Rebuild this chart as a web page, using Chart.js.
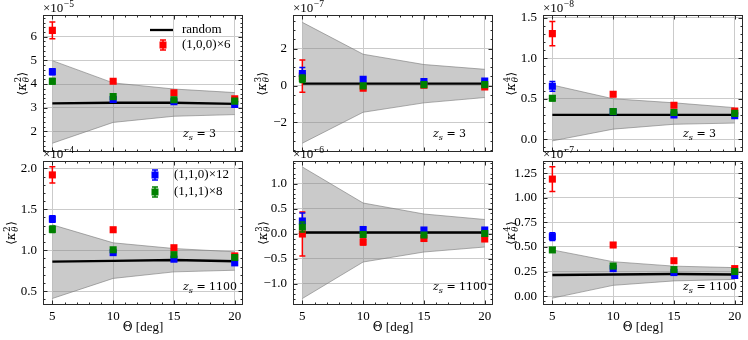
<!DOCTYPE html>
<html><head><meta charset="utf-8">
<script src="https://cdn.jsdelivr.net/npm/chart.js@4.4.1/dist/chart.umd.min.js"></script>
<style>
html,body{margin:0;padding:0;background:#fff}
body{width:748px;height:340px;position:relative;overflow:hidden}
canvas{position:absolute}
</style></head><body>
<script>
// ---------------- data ----------------
const thetaDeg = [5, 10, 15, 20];
const thetaTicks = [5, 10, 15, 20];
const seriesLabels = ['random', '(1,0,0)\u00D76', '(1,1,0)\u00D712', '(1,1,1)\u00D78'];

// <kappa^2>, z_s = 3   (x 1e-5)
const k2z3Random = [3.18, 3.21, 3.21, 3.16];
const k2z3BandHi = [4.99, 4.05, 3.79, 3.64];
const k2z3BandLo = [1.50, 2.38, 2.64, 2.71];
const k2z3S100 = [6.27, 4.12, 3.63, 3.38];
const k2z3E100 = [0.35, 0.06, 0.05, 0.04];
const k2z3S110 = [4.52, 3.35, 3.25, 3.14];
const k2z3E110 = [0.13, 0.05, 0.04, 0.04];
const k2z3S111 = [4.12, 3.47, 3.34, 3.28];
const k2z3E111 = [0.12, 0.05, 0.04, 0.04];
const k2z3Ticks = [2, 3, 4, 5, 6];

// <kappa^3>, z_s = 3   (x 1e-7)
const k3z3Random = [0.10, 0.10, 0.10, 0.10];
const k3z3BandHi = [3.43, 1.70, 1.14, 0.88];
const k3z3BandLo = [-3.13, -1.45, -0.94, -0.65];
const k3z3S100 = [0.51, -0.15, 0.02, -0.08];
const k3z3E100 = [0.88, 0.10, 0.07, 0.06];
const k3z3S110 = [0.65, 0.34, 0.22, 0.25];
const k3z3E110 = [0.33, 0.08, 0.06, 0.05];
const k3z3S111 = [0.37, -0.02, 0.05, 0.05];
const k3z3E111 = [0.20, 0.07, 0.05, 0.04];
const k3z3Ticks = [-2, 0, 2];

// <kappa^4>, z_s = 3   (x 1e-8)
const k4z3Random = [0.30, 0.30, 0.30, 0.30];
const k4z3BandHi = [0.67, 0.50, 0.45, 0.39];
const k4z3BandLo = [-0.02, 0.125, 0.185, 0.20];
const k4z3S100 = [1.305, 0.557, 0.42, 0.35];
const k4z3E100 = [0.15, 0.03, 0.02, 0.015];
const k4z3S110 = [0.654, 0.34, 0.30, 0.29];
const k4z3E110 = [0.06, 0.02, 0.015, 0.01];
const k4z3S111 = [0.507, 0.343, 0.33, 0.32];
const k4z3E111 = [0.03, 0.015, 0.01, 0.01];
const k4z3Ticks = [0.0, 0.5, 1.0, 1.5];

// <kappa^2>, z_s = 1100   (x 1e-4)
const k2z1100Random = [0.86, 0.87, 0.88, 0.865];
const k2z1100BandHi = [1.31, 1.09, 1.02, 0.98];
const k2z1100BandLo = [0.41, 0.655, 0.735, 0.755];
const k2z1100S100 = [1.92, 1.25, 1.03, 0.93];
const k2z1100E100 = [0.10, 0.02, 0.015, 0.01];
const k2z1100S110 = [1.38, 0.97, 0.89, 0.845];
const k2z1100E110 = [0.04, 0.015, 0.01, 0.01];
const k2z1100S111 = [1.255, 1.005, 0.945, 0.91];
const k2z1100E111 = [0.04, 0.015, 0.01, 0.01];
const k2z1100Ticks = [0.5, 1.0, 1.5, 2.0];

// <kappa^3>, z_s = 1100   (x 1e-6)
const k3z1100Random = [0.02, 0.02, 0.02, 0.02];
const k3z1100BandHi = [1.33, 0.61, 0.39, 0.28];
const k3z1100BandLo = [-1.30, -0.57, -0.37, -0.27];
const k3z1100S100 = [-0.01, -0.17, -0.10, -0.11];
const k3z1100E100 = [0.44, 0.06, 0.03, 0.03];
const k3z1100S110 = [0.25, 0.08, 0.07, 0.07];
const k3z1100E110 = [0.16, 0.04, 0.03, 0.02];
const k3z1100S111 = [0.13, -0.02, -0.03, 0.0];
const k3z1100E111 = [0.10, 0.03, 0.02, 0.02];
const k3z1100Ticks = [-1.0, -0.5, 0.0, 0.5, 1.0];

// <kappa^4>, z_s = 1100   (x 1e-7)
const k4z1100Random = [0.215, 0.22, 0.225, 0.22];
const k4z1100BandHi = [0.47, 0.35, 0.305, 0.29];
const k4z1100BandLo = [-0.02, 0.11, 0.155, 0.17];
const k4z1100S100 = [1.19, 0.52, 0.36, 0.28];
const k4z1100E100 = [0.125, 0.02, 0.015, 0.01];
const k4z1100S110 = [0.605, 0.28, 0.24, 0.21];
const k4z1100E110 = [0.04, 0.01, 0.01, 0.01];
const k4z1100S111 = [0.47, 0.306, 0.27, 0.25];
const k4z1100E111 = [0.02, 0.01, 0.01, 0.01];
const k4z1100Ticks = [0.0, 0.25, 0.5, 0.75, 1.0, 1.25];

// ---------------- panel setup ----------------
const panels = [
  {row:0, col:0, pow:'2', zs:'3',    exp:'\u22125', yMin:1.12,  yMax:6.92,  minor:0.2,  dec:0, ticks:k2z3Ticks,    rnd:k2z3Random,    hi:k2z3BandHi,    lo:k2z3BandLo,    s:[k2z3S100,k2z3S110,k2z3S111],          e:[k2z3E100,k2z3E110,k2z3E111],          labelX:22,  legend:'A'},
  {row:0, col:1, pow:'3', zs:'3',    exp:'\u22127', yMin:-3.62, yMax:3.83,  minor:0.5,  dec:0, ticks:k3z3Ticks,    rnd:k3z3Random,    hi:k3z3BandHi,    lo:k3z3BandLo,    s:[k3z3S100,k3z3S110,k3z3S111],          e:[k3z3E100,k3z3E110,k3z3E111],          labelX:262},
  {row:0, col:2, pow:'4', zs:'3',    exp:'\u22128', yMin:-0.16, yMax:1.535, minor:0.1,  dec:1, ticks:k4z3Ticks,    rnd:k4z3Random,    hi:k4z3BandHi,    lo:k4z3BandLo,    s:[k4z3S100,k4z3S110,k4z3S111],          e:[k4z3E100,k4z3E110,k4z3E111],          labelX:511},
  {row:1, col:0, pow:'2', zs:'1100', exp:'\u22124', yMin:0.33,  yMax:2.09,  minor:0.1,  dec:1, ticks:k2z1100Ticks, rnd:k2z1100Random, hi:k2z1100BandHi, lo:k2z1100BandLo, s:[k2z1100S100,k2z1100S110,k2z1100S111], e:[k2z1100E100,k2z1100E110,k2z1100E111], labelX:11, legend:'B'},
  {row:1, col:1, pow:'3', zs:'1100', exp:'\u22126', yMin:-1.43, yMax:1.45,  minor:0.1,  dec:1, ticks:k3z1100Ticks, rnd:k3z1100Random, hi:k3z1100BandHi, lo:k3z1100BandLo, s:[k3z1100S100,k3z1100S110,k3z1100S111], e:[k3z1100E100,k3z1100E110,k3z1100E111], labelX:263},
  {row:1, col:2, pow:'4', zs:'1100', exp:'\u22127', yMin:-0.09, yMax:1.374, minor:0.05, dec:2, ticks:k4z1100Ticks, rnd:k4z1100Random, hi:k4z1100BandHi, lo:k4z1100BandLo, s:[k4z1100S100,k4z1100S110,k4z1100S111], e:[k4z1100E100,k4z1100E110,k4z1100E111], labelX:511}
];

const TFONT = '"Liberation Serif", "Times New Roman", serif';   // text / ticks
const MFONT = '"DejaVu Serif", "DejaVu Sans", serif';           // math symbols
const TS = 13;
const COLORS = ['#ff0000', '#0000ff', '#008000'];
const colLeft = [43, 293, 543];
const PLOT_W = 200;
const rowTop = [15, 161], rowBottom = [161, 305];
const X_MIN = 4.23, X_MAX = 20.68;

function fmtTick(v, dec) {
  const s = Math.abs(v).toFixed(dec);
  return (v < -1e-9 ? '\u2212' : '') + s;
}
function pts(arr) { return thetaDeg.map((t, i) => ({x: t, y: arr[i]})); }

function drawErrBar(ctx, px, y1, y2, color) {
  ctx.save();
  ctx.strokeStyle = color; ctx.lineWidth = 1.5;
  ctx.beginPath();
  ctx.moveTo(px, y1); ctx.lineTo(px, y2);
  ctx.moveTo(px - 3, y1); ctx.lineTo(px + 3, y1);
  ctx.moveTo(px - 3, y2); ctx.lineTo(px + 3, y2);
  ctx.stroke();
  ctx.restore();
}

const errorBarPlugin = {
  id: 'errorBars',
  beforeDatasetDraw(chart, args) {
    const ds = chart.data.datasets[args.index];
    if (!ds.errors) return;
    const {ctx, scales: {x, y}} = chart;
    ds.data.forEach((p, i) => {
      const e = ds.errors[i];
      if (!e) return;
      drawErrBar(ctx, x.getPixelForValue(p.x), y.getPixelForValue(p.y - e), y.getPixelForValue(p.y + e), ds.backgroundColor);
    });
  }
};

function drawKappa(ctx, cx, cy, pow) {
  ctx.save();
  ctx.translate(cx, cy); ctx.rotate(-Math.PI / 2);
  ctx.fillStyle = '#000'; ctx.textBaseline = 'alphabetic'; ctx.textAlign = 'left';
  const fb = '12px ' + MFONT, fi = 'italic 12px ' + MFONT;
  const fsn = '8.5px ' + MFONT, fsi = 'italic 8.5px ' + MFONT;
  ctx.font = fb; const wl = ctx.measureText('\u27E8').width, wr = ctx.measureText('\u27E9').width;
  ctx.font = fi; const wk = ctx.measureText('\u03BA').width;
  ctx.font = fsn; const wp = ctx.measureText(pow).width;
  ctx.font = fsi; const wt = ctx.measureText('\u03B8').width;
  const ws = Math.max(wp, wt) + 1;
  let x = -(wl + wk + ws + wr) / 2;
  const base = 4;
  ctx.font = fb; ctx.fillText('\u27E8', x, base); x += wl;
  ctx.font = fi; ctx.fillText('\u03BA', x, base); x += wk;
  ctx.font = fsn; ctx.fillText(pow, x + 0.5, base - 5.5);
  ctx.font = fsi; ctx.fillText('\u03B8', x + 0.5, base + 3);
  x += ws;
  ctx.font = fb; ctx.fillText('\u27E9', x, base);
  ctx.restore();
}

function legendMarker(ctx, cx, cy, color) {
  drawErrBar(ctx, cx, cy - 5, cy + 5, color);
  ctx.fillStyle = color;
  ctx.fillRect(cx - 3.5, cy - 3.5, 7, 7);
}

function makeDeco(p, offX, offY) {
  return {
    id: 'deco',
    afterDraw(chart) {
      const {ctx, chartArea: a, scales: {x, y}} = chart;
      ctx.save();
      // frame + inward ticks
      ctx.strokeStyle = '#2a2a2a'; ctx.lineWidth = 1;
      const L = Math.round(a.left) + 0.5, R = Math.round(a.right) - 0.5;
      const T = Math.round(a.top) + 0.5, B = Math.round(a.bottom) - 0.5;
      ctx.strokeRect(L, T, R - L, B - T);
      ctx.beginPath();
      for (let v = Math.ceil(x.min); v <= x.max; v += 1) {
        const px = Math.round(x.getPixelForValue(v)) + 0.5;
        const len = thetaTicks.includes(v) ? 4 : 2;
        ctx.moveTo(px, B); ctx.lineTo(px, B - len);
        ctx.moveTo(px, T); ctx.lineTo(px, T + len);
      }
      const k0 = Math.ceil(p.yMin / p.minor - 1e-6), k1 = Math.floor(p.yMax / p.minor + 1e-6);
      for (let k = k0; k <= k1; k++) {
        const v = k * p.minor;
        const major = p.ticks.some(t => Math.abs(t - v) < p.minor * 0.1);
        const py = Math.round(y.getPixelForValue(v)) + 0.5;
        const len = major ? 4 : 2;
        ctx.moveTo(L, py); ctx.lineTo(L + len, py);
        ctx.moveTo(R, py); ctx.lineTo(R - len, py);
      }
      ctx.stroke();

      ctx.fillStyle = '#000';
      // offset text  x10^-n
      ctx.textAlign = 'left'; ctx.textBaseline = 'alphabetic';
      ctx.font = TS + 'px ' + TFONT;
      const oy = a.top - 3;
      ctx.fillText('\u00D710', a.left, oy);
      const ow = ctx.measureText('\u00D710').width;
      ctx.font = '9.5px ' + TFONT;
      ctx.fillText(p.exp, a.left + ow + 0.5, oy - 5);

      // z_s label
      let zx = a.left + 140; const zy = a.bottom - 15;
      ctx.font = 'italic 11px ' + MFONT; ctx.fillText('z', zx, zy); zx += ctx.measureText('z').width;
      ctx.font = 'italic 8px ' + MFONT; ctx.fillText('s', zx, zy + 3); zx += ctx.measureText('s').width;
      ctx.font = '11px ' + MFONT; ctx.fillText(' = ' + p.zs, zx, zy);

      // y label
      drawKappa(ctx, p.labelX - offX, (a.top + a.bottom) / 2, p.pow);

      // x title
      if (p.row === 1) {
        ctx.textAlign = 'left'; ctx.textBaseline = 'middle';
        ctx.font = '12px ' + MFONT; const wTh = ctx.measureText('\u0398').width;
        ctx.font = TS + 'px ' + TFONT; const wRest = ctx.measureText(' [deg]').width;
        let tx = (a.left + a.right) / 2 - (wTh + wRest) / 2; const ty = 328 - offY;
        ctx.font = '12px ' + MFONT; ctx.fillText('\u0398', tx, ty); tx += wTh;
        ctx.font = TS + 'px ' + TFONT; ctx.fillText(' [deg]', tx, ty);
      }

      // legends
      ctx.textAlign = 'left'; ctx.textBaseline = 'middle'; ctx.font = TS + 'px ' + TFONT;
      if (p.legend === 'A') {
        ctx.strokeStyle = '#000'; ctx.lineWidth = 2.3;
        ctx.beginPath(); ctx.moveTo(150 - offX, 30 - offY); ctx.lineTo(173 - offX, 30 - offY); ctx.stroke();
        ctx.fillText(seriesLabels[0], 182 - offX, 30 - offY);
        legendMarker(ctx, 163 - offX, 45 - offY, COLORS[0]);
        ctx.fillStyle = '#000';
        ctx.fillText(seriesLabels[1], 182 - offX, 45 - offY);
      } else if (p.legend === 'B') {
        legendMarker(ctx, 155 - offX, 175 - offY, COLORS[1]);
        legendMarker(ctx, 155 - offX, 192 - offY, COLORS[2]);
        ctx.fillStyle = '#000';
        ctx.fillText(seriesLabels[2], 174 - offX, 175 - offY);
        ctx.fillText(seriesLabels[3], 174 - offX, 192 - offY);
      }
      ctx.restore();
    }
  };
}

panels.forEach((p) => {
  const cv = document.createElement('canvas');
  const cLeft = colLeft[p.col] - 43;
  const cTop = p.row === 0 ? 0 : 140;
  const cW = 248, cH = p.row === 0 ? 166 : 200;
  cv.width = cW; cv.height = cH;
  cv.style.left = cLeft + 'px'; cv.style.top = cTop + 'px';
  cv.style.width = cW + 'px'; cv.style.height = cH + 'px';
  document.body.appendChild(cv);

  const plotTop = rowTop[p.row], plotBot = rowBottom[p.row];
  const padTop = plotTop - cTop;
  const xH = p.row === 0 ? 0 : (cTop + cH - plotBot);
  const padBottom = p.row === 0 ? (cTop + cH - plotBot) : 0;
  const padRight = cW - 43 - PLOT_W;

  const datasets = [
    {data: pts(p.lo), borderColor: 'rgba(120,120,120,0.6)', borderWidth: 1, pointRadius: 0, fill: false, order: 5, tension: 0},
    {data: pts(p.hi), borderColor: 'rgba(120,120,120,0.6)', borderWidth: 1, pointRadius: 0, fill: '-1', backgroundColor: 'rgba(128,128,128,0.42)', order: 4, tension: 0},
    {data: pts(p.rnd), borderColor: '#000', borderWidth: 2.3, pointRadius: 0, fill: false, order: 3, tension: 0}
  ];
  [0, 1, 2].forEach(k => {
    datasets.push({
      data: pts(p.s[k]), errors: p.e[k], showLine: false, fill: false,
      pointStyle: 'rect', pointRadius: 5, pointBorderWidth: 0,
      backgroundColor: COLORS[k], borderColor: COLORS[k], order: 2 - k
    });
  });

  new Chart(cv, {
    type: 'line',
    data: {datasets},
    options: {
      responsive: false, animation: false, devicePixelRatio: 1,
      layout: {padding: {left: 0, right: padRight, top: padTop, bottom: padBottom}},
      plugins: {legend: {display: false}, tooltip: {enabled: false}},
      elements: {point: {hoverRadius: 5}},
      scales: {
        x: {
          type: 'linear', min: X_MIN, max: X_MAX,
          afterBuildTicks: s => { s.ticks = thetaTicks.map(v => ({value: v})); },
          afterFit: s => { s.height = xH; },
          grid: {color: '#cbcbcb', lineWidth: 1, drawTicks: false},
          border: {display: false},
          ticks: {display: p.row === 1, padding: 4, autoSkip: false, maxRotation: 0, color: '#000',
                  font: {family: TFONT, size: TS}, callback: v => String(v)}
        },
        y: {
          type: 'linear', min: p.yMin, max: p.yMax,
          afterBuildTicks: s => { s.ticks = p.ticks.map(v => ({value: v})); },
          afterFit: s => { s.width = 43; },
          grid: {color: '#cbcbcb', lineWidth: 1, drawTicks: false},
          border: {display: false},
          ticks: {padding: 6, autoSkip: false, color: '#000', font: {family: TFONT, size: TS},
                  callback: v => fmtTick(v, p.dec)}
        }
      }
    },
    plugins: [errorBarPlugin, makeDeco(p, cLeft, cTop)]
  });
});
</script>
</body></html>
